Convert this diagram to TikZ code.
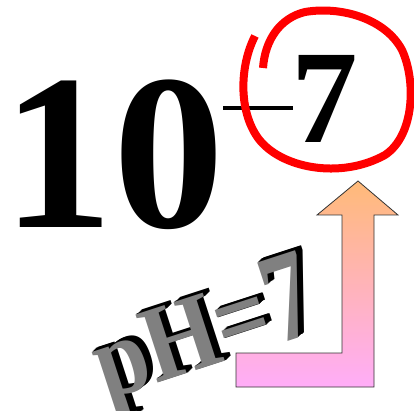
\documentclass[tikz,border=0pt]{standalone}
\usepackage{fontspec}
\newfontfamily\tnr{Liberation Serif}
\definecolor{arrtop}{HTML}{FFBA78}
\definecolor{arrbot}{HTML}{FFADF8}
\definecolor{wordgray}{HTML}{808080}
\begin{document}
\begin{tikzpicture}[x=1pt,y=-1pt,
  bigtxt/.style={inner sep=0pt,outer sep=0pt,font=\tnr\bfseries\fontsize{222}{222}\selectfont},
  suptxt/.style={inner sep=0pt,outer sep=0pt,font=\tnr\bfseries\fontsize{133}{133}\selectfont},
  wordtxt/.style={inner sep=0pt,outer sep=0pt,rotate=18,anchor=base west,font=\tnr\bfseries\fontsize{95}{95}\selectfont}]
\useasboundingbox (0,0) rectangle (414,411);
% 10
\node[bigtxt,anchor=base west] (ten) at (2,228) {10};
% minus sign
\fill (223,106) rectangle (293,110);
% 7 exponent
\node[suptxt,anchor=base west] (seven) at (291,143) {7};
% red hand-drawn circle
\draw[red,line width=8pt,line cap=butt,line join=round]
  (255,36) .. controls (240,65) and (238,110) .. (258,138)
  .. controls (280,168) and (340,180) .. (385,155)
  .. controls (415,135) and (416,80) .. (402,50)
  .. controls (385,18) and (340,6) .. (305,12)
  .. controls (280,18) and (265,40) .. (263,68);
% arrow
\shadedraw[top color=arrtop,bottom color=arrbot,draw=black!80,line width=0.8pt]
  (358,181) -- (398,215) -- (374,215) -- (374,387) -- (236,387) -- (236,353)
  -- (342,353) -- (342,215) -- (317,215) -- cycle;
% pH=7 3D word
\foreach \i in {6,5,...,1}{
  \node[wordtxt,yscale=1.15,text=black] at (106+1.0*\i,400-0.8*\i) {pH=};
  \node[wordtxt,yscale=1.35,text=black] at (278+1.0*\i,344-0.8*\i) {7};
}
\node[wordtxt,yscale=1.15,text=wordgray] (word) at (106,400) {pH=};
\node[wordtxt,yscale=1.35,text=wordgray] (wseven) at (278,344) {7};
\end{tikzpicture}
\end{document}
